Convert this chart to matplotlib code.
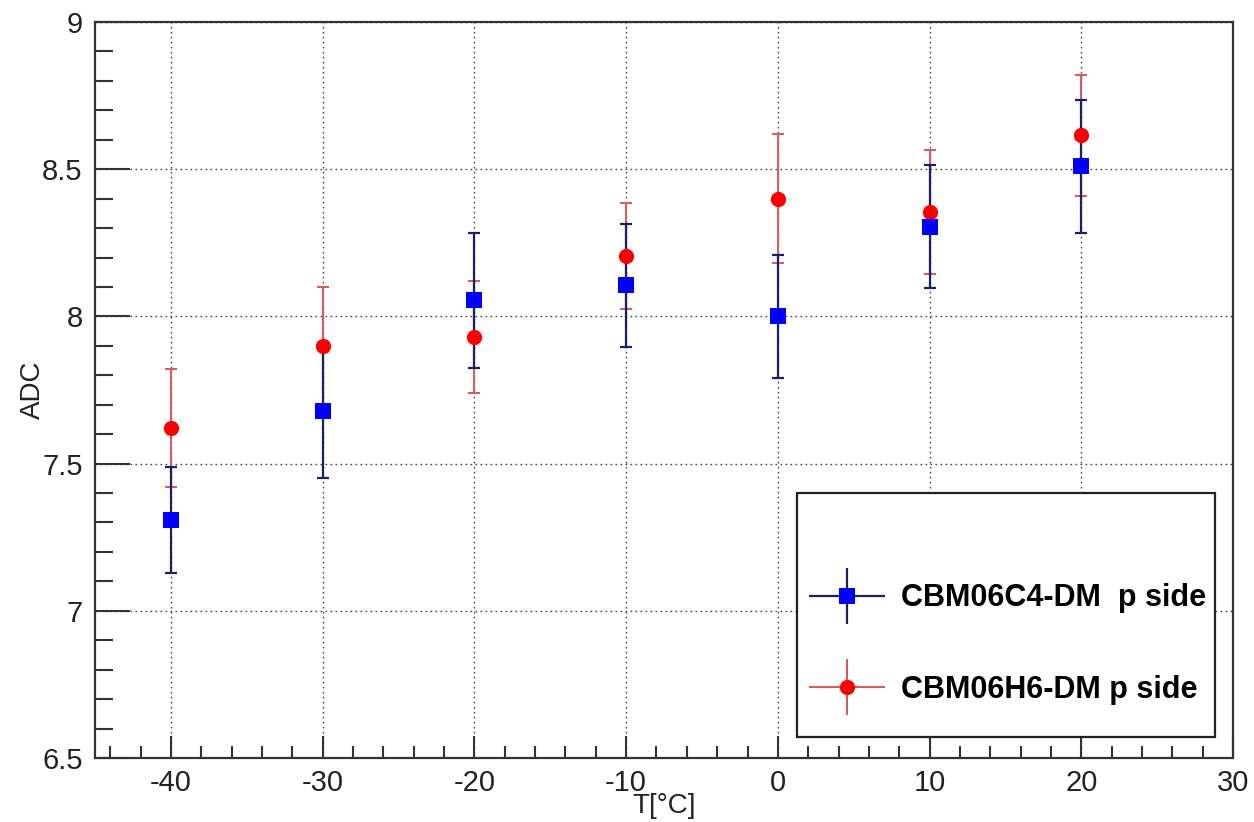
import numpy as np
import matplotlib
matplotlib.use('Agg')
import matplotlib.pyplot as plt
import matplotlib.patches as patches
from matplotlib.container import ErrorbarContainer
from matplotlib.legend_handler import HandlerErrorbar
from matplotlib.ticker import MultipleLocator

plt.rcParams['font.family'] = ['Liberation Sans', 'DejaVu Sans']
plt.rcParams['axes.unicode_minus'] = False

# 温度点
T = [-40, -30, -20, -10, 0, 10, 20]

# CBM06C4-DM p side
c4_adc = [7.31, 7.68, 8.055, 8.105, 8.00, 8.305, 8.51]
c4_err = [0.18, 0.23, 0.23, 0.21, 0.21, 0.21, 0.225]

# CBM06H6-DM p side
h6_adc = [7.62, 7.90, 7.93, 8.205, 8.40, 8.355, 8.615]
h6_err = [0.20, 0.20, 0.19, 0.18, 0.22, 0.21, 0.205]

labels = ['CBM06C4-DM  p side', 'CBM06H6-DM p side']

fig = plt.figure(figsize=(12.54, 8.22), dpi=100)
ax = fig.add_axes([0.0758, 0.0779, 0.9075, 0.8953])

ax.set_xlim(-45, 30)
ax.set_ylim(6.5, 9)

# 误差棒
ax.errorbar(T, h6_adc, yerr=h6_err, fmt='none', ecolor='#d06060', elinewidth=1.5,
            capsize=4, capthick=1.5, zorder=2)
ax.errorbar(T, c4_adc, yerr=c4_err, fmt='none', ecolor='#1e1e66', elinewidth=1.6,
            capsize=4, capthick=1.6, zorder=2.5)

# 数据点
ax.plot(T, h6_adc, 'o', color='#ff0000', markersize=11, markeredgewidth=0, zorder=3)
ax.plot(T, c4_adc, 's', color='#0000ff', markersize=11.5, markeredgewidth=0, zorder=4)

# 图例代理
h_c4 = ax.errorbar([np.nan], [np.nan], xerr=[1], yerr=[1], fmt='s', color='#0000ff',
                   ecolor='#1e1e66', elinewidth=1.6, markersize=11.5, markeredgewidth=0, capsize=0)
h_h6 = ax.errorbar([np.nan], [np.nan], xerr=[1], yerr=[1], fmt='o', color='#ff0000',
                   ecolor='#d06060', elinewidth=1.5, markersize=11, markeredgewidth=0, capsize=0)

leg = ax.legend([h_c4, h_h6], labels, loc='center left', bbox_to_anchor=(0.6274, 0.1549),
                frameon=False, borderpad=0, borderaxespad=0, handlelength=2.5,
                handletextpad=0.5, labelspacing=2.0,
                prop={'size': 22, 'weight': 'bold'},
                handler_map={ErrorbarContainer: HandlerErrorbar(xerr_size=1.25, yerr_size=0.92)})
leg.set_zorder(6)
frame = patches.Rectangle((0.617, 0.0285), 0.367, 0.3315, transform=ax.transAxes,
                          facecolor='white', edgecolor='#222222', linewidth=1.6, zorder=5)
ax.add_patch(frame)

# 坐标轴
ax.xaxis.set_major_locator(MultipleLocator(10))
ax.xaxis.set_minor_locator(MultipleLocator(2))
ax.yaxis.set_major_locator(MultipleLocator(0.5))
ax.yaxis.set_minor_locator(MultipleLocator(0.1))
ax.yaxis.set_major_formatter(matplotlib.ticker.FuncFormatter(lambda v, p: ('%g' % v)))

ax.tick_params(axis='both', which='both', direction='in', top=False, right=False,
               colors='#333333', width=1.5, labelsize=21, labelcolor='#222222')
ax.tick_params(axis='y', which='major', length=25, pad=9)
ax.tick_params(axis='y', which='minor', length=13)
ax.tick_params(axis='x', which='major', length=16, pad=8)
ax.tick_params(axis='x', which='minor', length=9)

for s in ax.spines.values():
    s.set_color('#333333')
    s.set_linewidth(1.6)

ax.grid(True, which='major', color='#444444', linestyle=(0, (1.2, 2.4)), linewidth=1.0)
ax.set_axisbelow(True)

ax.set_xlabel('T[°C]', fontsize=20, color='#222222', labelpad=-3)
ax.set_ylabel('ADC', fontsize=20, color='#222222', labelpad=-3)

plt.savefig('out.png', dpi=100)
